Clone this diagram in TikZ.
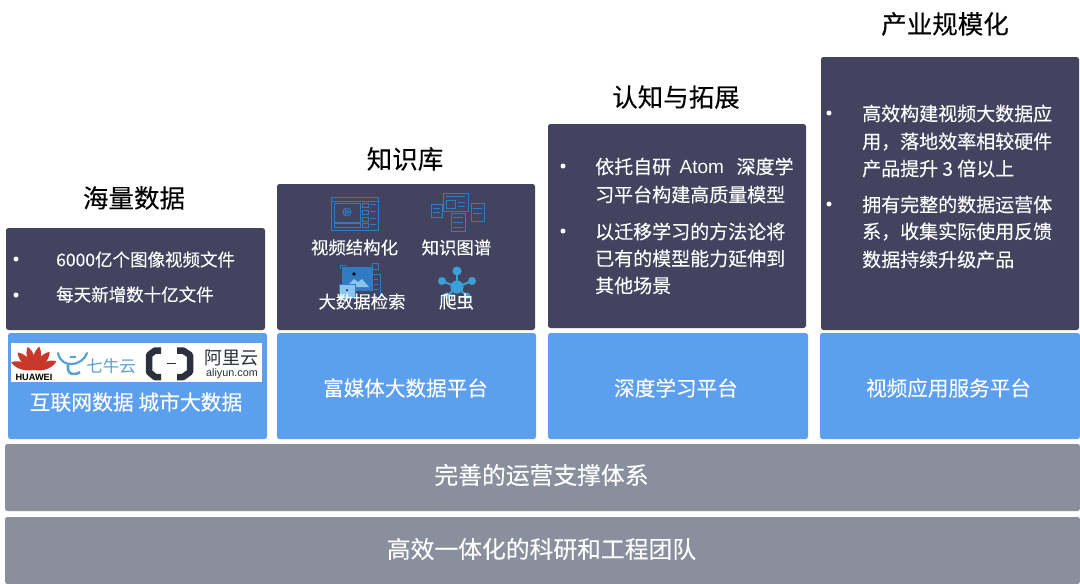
\documentclass[tikz,border=0pt]{standalone}
\usepackage{fontspec}
\setmainfont{Noto Sans CJK SC}[FakeBold=0.12]
\newfontfamily\plainf{Noto Sans CJK SC}
\newfontfamily\latinf{Liberation Sans}
\definecolor{darkbox}{HTML}{43435F}
\definecolor{bluebox}{HTML}{5B9FEE}
\definecolor{greybox}{HTML}{8A8F9E}
\definecolor{iconblue}{HTML}{2F7CC4}
\definecolor{iconlight}{HTML}{8CC4EE}
\definecolor{hubblue}{HTML}{3AA0D8}
\definecolor{qiniu}{HTML}{5A9FD2}
\definecolor{huawei}{HTML}{C8392B}
\definecolor{alidark}{HTML}{2A3040}
\tikzset{
  x=1pt,y=-1pt,
  panel/.style={rounded corners=2.5pt,draw=none},
  darkp/.style={panel,fill=darkbox},
  bluep/.style={panel,fill=bluebox},
  greyp/.style={panel,fill=greybox},
  title/.style={text=black,font=\fontsize{25.5}{30}\selectfont,inner sep=0pt},
  body/.style={text=white,font=\fontsize{19}{27}\selectfont,inner sep=0pt,anchor=west},
  small/.style={text=white,font=\fontsize{17.4}{22}\selectfont,inner sep=0pt},
  plat/.style={text=white,font=\fontsize{20.6}{24}\selectfont,inner sep=0pt},
  band/.style={text=white,font=\fontsize{23.8}{28}\selectfont,inner sep=0pt},
  bul/.style={circle,fill=white,inner sep=0pt,minimum size=5pt},
  ico/.style={draw=iconblue,line width=1pt},
}
\begin{document}
\begin{tikzpicture}
\useasboundingbox (0,0) rectangle (1080,584);
\fill[white] (0,0) rectangle (1080,584);
% panels
\path[darkp] (6,228) rectangle (265,330);
\path[darkp] (277,184) rectangle (535,330);
\path[darkp] (548,124) rectangle (806,328);
\path[darkp] (821,57) rectangle (1079,330);
\path[bluep] (8,333) rectangle (267,439);
\path[bluep] (277,333) rectangle (536,439);
\path[bluep] (548,333) rectangle (808,439);
\path[bluep] (820,333) rectangle (1080,439);
\path[greyp] (5,444) rectangle (1080,511);
\path[greyp] (5,517) rectangle (1080,584);
% titles
\node[title] (t1) at (134,198) {海量数据};
\node[title] (t2) at (405,159) {知识库};
\node[title] (t3) at (676,97) {认知与拓展};
\node[title] (t4) at (945,24) {产业规模化};
% column 1
\node[bul] (b11) at (16,259) {};
\node[bul] (b12) at (16,295) {};
\node[body,font=\fontsize{17.5}{22}\selectfont] (c11) at (56,259.5) {6000亿个图像视频文件};
\node[body,font=\fontsize{17.5}{22}\selectfont] (c12) at (56,294.5) {每天新增数十亿文件};
% column 2 icons
\begin{scope}[ico]
 \draw (331,197) rectangle (378,230);
 \draw (331,201) -- (378,201);
 \draw (334,203) rectangle (360,222);
 \draw (347,212) circle (4);
 \draw (345.5,210) -- (349.5,212) -- (345.5,214) -- cycle;
 \draw (334,223) rectangle (360,227);
 \foreach \yy in {203,210,217,223}{\draw (362,\yy) rectangle (368,\yy+4);\draw (370,\yy+1) -- (376,\yy+1);}
 \draw (431,204) rectangle (442,217);
 \draw (433,208) -- (440,208) (433,212) -- (440,212);
 \draw (443,193) rectangle (468,211);
 \draw (446,196.5) -- (465,196.5);
 \draw (446,200) rectangle (455,208);
 \draw (458,202) -- (465,202) (458,206) -- (465,206);
 \draw (471,203) rectangle (484,221);
 \draw (473,208) -- (482,208) (473,213) -- (482,213);
 \draw (451,213) rectangle (465,231);
 \draw (453,217) -- (463,217) (453,222) -- (463,222) (453,227) -- (463,227);
 % image search icon
 \draw (372,274) -- (380,274) -- (380,297) -- (355,297);
 \draw (374,279) -- (378,279) (374,284) -- (378,284) (374,289) -- (378,289);
 \draw[fill=iconblue] (342,267) rectangle (372,290);
 \fill[iconlight] (346,287) -- (354,279) -- (358,282) -- (362,279) -- (369,287) -- cycle;
 \fill[black] (354,274) circle (1.8);
 \draw[fill=iconlight] (339,284) rectangle (355,298);
 \fill[black] (347,290) circle (1);
 \draw (372,263) rectangle (378,269);
 \draw (340,269) -- (340,265) -- (346,265);
\end{scope}
\coordinate (hub) at (457,287);
\foreach \xx/\yy/\rr in {457/271/4.5,442/281/4,472/281/4,447/296/3.5,467/296/3.5}{
  \draw[hubblue,line width=2pt] (hub) -- (\xx,\yy);
  \fill[hubblue] (\xx,\yy) circle (\rr);
}
\fill[hubblue] (hub) circle (6.5);
\node[small] (s1) at (354.5,247.5) {视频结构化};
\node[small] (s2) at (456.5,247.5) {知识图谱};
\node[small] (s3) at (362,301.5) {大数据检索};
\node[small] (s4) at (456.5,301.5) {爬虫};
% column 3
\node[bul] (b31) at (563,166) {};
\node[bul] (b32) at (563,231) {};
\node[body] (c31) at (595,166.5) {依托自研\ \ {\latinf Atom}\ \ \hspace{4pt}深度学};
\node[body] (c32) at (595,194.5) {习平台构建高质量模型};
\node[body] (c33) at (595,231.5) {以迁移学习的方法论将};
\node[body] (c34) at (595,258.5) {已有的模型能力延伸到};
\node[body] (c35) at (595,285.5) {其他场景};
% column 4
\node[bul] (b41) at (829,113) {};
\node[bul] (b42) at (829,204) {};
\node[body] (d1) at (862,113.5) {高效构建视频大数据应};
\node[body] (d2) at (862,141.5) {用，落地效率相较硬件};
\node[body] (d3) at (862,168.5) {产品提升 3 倍以上};
\node[body] (d4) at (862,204.5) {拥有完整的数据运营体};
\node[body] (d5) at (862,231.5) {系，收集实际使用反馈};
\node[body] (d6) at (862,259.5) {数据持续升级产品};
% logo strip
\fill[white] (11,343) rectangle (262,382);
\foreach \aa in {-70,-42,-14,14,42,70}{
 \fill[huawei,rotate around={\aa:(34,370)}] (34,370) .. controls (29,361) and (29,352) .. (33.5,346) .. controls (38.5,352) and (39,361) .. (34,370);
}
\node[inner sep=0pt,font=\latinf\bfseries\fontsize{9.2}{10}\selectfont,text=black] (hw) at (34,377) {HUAWEI};
\draw[qiniu,line width=2.2pt,line cap=round] (58,353) .. controls (60,362) and (66,364) .. (71,364) .. controls (79,364) and (85,359) .. (87,353);
\draw[qiniu,line width=2.6pt] (68,363) -- (68,369) .. controls (68,374) and (74,376) .. (80,372);
\draw[qiniu,line width=2pt] (70,357) -- (76,357);
\node[inner sep=0pt,text=qiniu,font=\plainf\fontsize{16.5}{18}\selectfont] (qn) at (111,366.5) {七牛云};
\draw[alidark,line width=6.5pt,line join=round] (161,350.5) -- (155,350.5) -- (149,355) -- (149,372) -- (155,377) -- (161,377);
\draw[alidark,line width=6.5pt,line join=round] (177,350.5) -- (183,350.5) -- (190,355) -- (190,372) -- (183,377) -- (177,377);
\draw[alidark,line width=1pt] (167,363.5) -- (176,363.5);
\node[inner sep=0pt,text=alidark,font=\plainf\fontsize{18}{20}\selectfont] (al) at (231.5,358) {阿里云};
\node[inner sep=0pt,text=alidark,font=\latinf\fontsize{10.8}{12}\selectfont] (ay) at (232,374) {aliyun.com};
% platform labels
\node[plat,font=\fontsize{20.8}{24}\selectfont] (q1) at (136,402) {互联网数据 城市大数据};
\node[plat] (q2) at (405.5,388) {富媒体大数据平台};
\node[plat] (q3) at (676,388) {深度学习平台};
\node[plat] (q4) at (948.5,388) {视频应用服务平台};
\node[band] (g1) at (541.5,475) {完善的运营支撑体系};
\node[band] (g2) at (541.5,549) {高效一体化的科研和工程团队};
\end{tikzpicture}
\end{document}
